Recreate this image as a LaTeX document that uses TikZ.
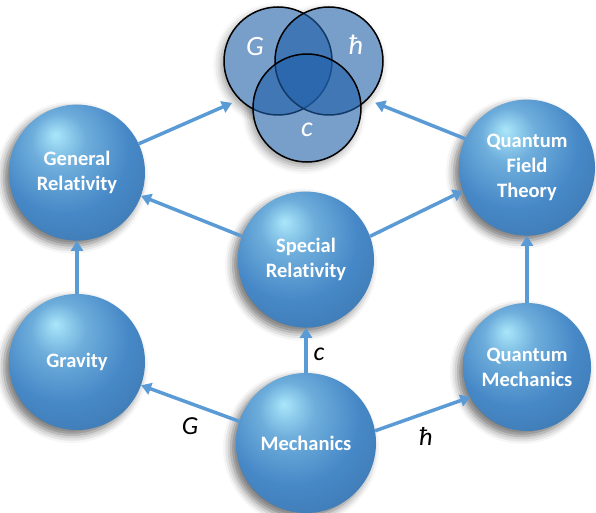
\documentclass[tikz,border=0pt]{standalone}
\usepackage{fontspec}
\setmainfont{Carlito}[Ligatures=CommonOff]
\usepackage{xcolor}
\usetikzlibrary{arrows.meta,positioning,shadows.blur}

\definecolor{sphereblue}{RGB}{70,136,199}
\definecolor{hiliteblue}{RGB}{170,230,250}
\definecolor{arrowblue}{RGB}{91,155,213}
\definecolor{vennblue}{RGB}{30,94,168}

\pgfdeclareradialshading{sphere}{\pgfpoint{-8bp}{14bp}}{%
  color(0bp)=(hiliteblue); color(10bp)=(sphereblue!60!hiliteblue);
  color(24bp)=(sphereblue); color(42bp)=(sphereblue!85!black);
  color(53bp)=(sphereblue!45!black); color(63bp)=(sphereblue!15!black)}

\begin{document}
\begin{tikzpicture}[
    x=1pt, y=-1pt,
    ball/.style={circle, minimum size=136pt, inner sep=0pt, shade, shading=sphere, align=center, text=white,
        font=\fontsize{20.5}{25}\selectfont\bfseries,
        blur shadow={shadow xshift=-5pt, shadow yshift=-5pt, shadow blur radius=8pt, shadow opacity=55}},
    venn/.style={circle, draw=black, line width=1.5pt, fill=vennblue, fill opacity=0.6, minimum size=108pt, inner sep=0pt},
    vennlabel/.style={text=white, font=\fontsize{28}{28}\selectfont\itshape},
    symlabel/.style={font=\fontsize{26}{26}\selectfont\itshape},
    arrow/.style={-{Triangle[length=10pt, width=12pt]}, line width=3.5pt, arrowblue}
]
\useasboundingbox (0,0) rectangle (596,513);

\foreach \p in {(278,61), (329,61), (307,108)}
    \path[blur shadow={shadow xshift=-3pt, shadow yshift=-4pt, shadow blur radius=8pt, shadow opacity=40}] \p circle[radius=54pt];
\foreach \p in {(278,61), (329,61), (307,108)}
    \fill[white] \p circle[radius=54pt];

\node[venn] (circG) at (278,61) {};
\node[venn] (circH) at (329,61) {};
\node[venn] (circC) at (307,108) {};
\node[vennlabel] (vennG) at (255,47) {G};
\node[vennlabel] (vennH) at (356,45) {ħ};
\node[vennlabel] (vennC) at (307,130) {c};

\node[ball, minimum size=140pt] (mech) at (306,443) {Mechanics};
\node[ball] (grav) at (77,362) {Gravity};
\node[ball, minimum size=128pt] (qm) at (527,367) {Quantum\\Mechanics};
\node[ball, above=45pt of mech] (sr) {Special\\Relativity};
\node[ball, above=53pt of grav] (gr) {General\\Relativity};
\node[ball, above=67pt of qm] (qft) {Quantum\\Field\\Theory};

\draw[arrow] (mech.162) -- (grav.340);
\draw[arrow] (mech.north) -- (sr.south);
\draw[arrow] (mech.10) -- (qm.208);
\draw[arrow] (grav.north) -- (gr.south);
\draw[arrow] (qm.north) -- (qft.south);
\draw[arrow] (sr.160) -- (gr.340);
\draw[arrow] (sr.20) -- (qft.200);
\draw[arrow, shorten >=8pt] (gr.25) -- (circG.225);
\draw[arrow, shorten >=8pt] (qft.155) -- (circH.315);

\node[symlabel] (lblG) at (190,426) {G};
\node[symlabel] (lblC) at (319,354) {c};
\node[symlabel] (lblH) at (426,436) {ħ};

\end{tikzpicture}
\end{document}
